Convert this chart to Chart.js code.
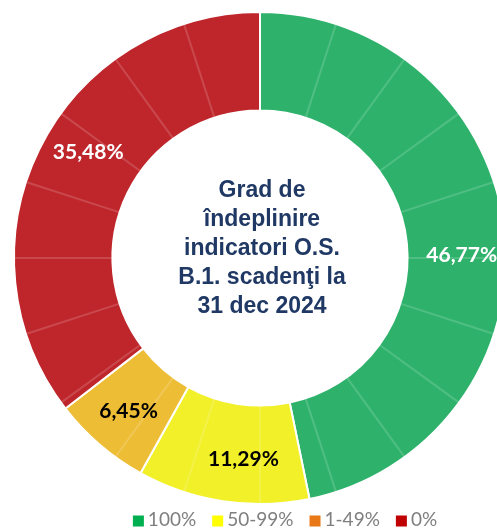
<!DOCTYPE html>
<html><head><meta charset="utf-8">
<script src="https://cdn.jsdelivr.net/npm/chart.js@4"></script>
<style>
html,body{margin:0;padding:0;background:#fff;overflow:hidden;}
#wrap{position:relative;width:520px;height:529px;}
</style></head><body>
<div id="wrap"><canvas id="c" width="520" height="529"></canvas></div>
<script>
// ---- data ----
const categories = ['100%', '50-99%', '1-49%', '0%'];
const values = [46.77, 11.29, 6.45, 35.48];
const sliceColors = ['#2eb26b', '#f2f028', '#edbd35', '#bf262b'];
const legendColors = ['#00b050', '#ffff00', '#e97817', '#c00000'];
const labelColors = ['#ffffff', '#000000', '#000000', '#ffffff'];
const centerLines = ['Grad de', 'îndeplinire', 'indicatori O.S.', 'B.1. scadenţi la', '31 dec 2024'];
// style: small angular nudges (degrees) of the value labels, as placed in the original
const labelAngleNudge = [5, -4, 0, 5.5];
const gridSteps = 20;

function fmt(v){ return v.toFixed(2).replace('.', ',') + '%'; }

const ringGrid = {
  id: 'ringGrid',
  afterDatasetsDraw(chart){
    const arc = chart.getDatasetMeta(0).data[0];
    if (!arc) return;
    const {x, y, innerRadius, outerRadius} = arc;
    const ctx = chart.ctx;
    ctx.save();
    ctx.strokeStyle = 'rgba(255,255,255,0.16)';
    ctx.lineWidth = 2;
    for (let k = 0; k < gridSteps; k++) {
      const a = -Math.PI / 2 + k * 2 * Math.PI / gridSteps;
      ctx.beginPath();
      ctx.moveTo(x + Math.cos(a) * innerRadius, y + Math.sin(a) * innerRadius);
      ctx.lineTo(x + Math.cos(a) * outerRadius, y + Math.sin(a) * outerRadius);
      ctx.stroke();
    }
    ctx.restore();
  }
};

const sliceLabels = {
  id: 'sliceLabels',
  afterDatasetsDraw(chart){
    const meta = chart.getDatasetMeta(0);
    const ctx = chart.ctx;
    ctx.save();
    ctx.font = 'bold 21px Lato';
    ctx.textAlign = 'center';
    ctx.textBaseline = 'middle';
    meta.data.forEach((arc, i) => {
      const {x, y, startAngle, endAngle, innerRadius, outerRadius} = arc;
      const a = (startAngle + endAngle) / 2 + labelAngleNudge[i] * Math.PI / 180;
      const r = innerRadius + (outerRadius - innerRadius) * 0.55;
      ctx.fillStyle = labelColors[i];
      ctx.fillText(fmt(values[i]), x + Math.cos(a) * r, y + Math.sin(a) * r);
    });
    ctx.restore();
  }
};

const centerText = {
  id: 'centerText',
  afterDatasetsDraw(chart){
    const arc = chart.getDatasetMeta(0).data[0];
    if (!arc) return;
    const ctx = chart.ctx;
    ctx.save();
    ctx.font = 'bold 23px "Liberation Sans", Arial, sans-serif';
    ctx.fillStyle = '#1f3864';
    ctx.textAlign = 'center';
    ctx.textBaseline = 'middle';
    const lh = 29, n = centerLines.length;
    centerLines.forEach((t, i) => {
      ctx.fillText(t, arc.x + 2, arc.y - 9 + (i - (n - 1) / 2) * lh);
    });
    ctx.restore();
  }
};

const bottomLegend = {
  id: 'bottomLegend',
  afterDraw(chart){
    const arc = chart.getDatasetMeta(0).data[0];
    if (!arc) return;
    const ctx = chart.ctx;
    ctx.save();
    ctx.font = '19px Lato';
    ctx.textBaseline = 'middle';
    const box = 11, gap = 4, space = 16;
    const widths = categories.map(c => box + gap + ctx.measureText(c).width);
    const total = widths.reduce((s, w) => s + w, 0) + space * (categories.length - 1);
    let x = arc.x + 25 - total / 2;
    const y = chart.height - 9;
    categories.forEach((c, i) => {
      ctx.fillStyle = legendColors[i];
      ctx.fillRect(x, y - box / 2 + 1, box, box);
      ctx.fillStyle = '#7f7f7f';
      ctx.fillText(c, x + box + gap, y);
      x += widths[i] + space;
    });
    ctx.restore();
  }
};

new Chart(document.getElementById('c'), {
  type: 'doughnut',
  data: {
    labels: categories,
    datasets: [{
      data: values,
      backgroundColor: sliceColors,
      borderColor: '#ffffff',
      borderWidth: 2
    }]
  },
  options: {
    responsive: false,
    animation: false,
    cutout: '60%',
    layout: { padding: { top: 11, bottom: 24, left: 0, right: 0 } },
    plugins: {
      legend: { display: false },
      tooltip: { enabled: false }
    },
    events: []
  },
  plugins: [ringGrid, sliceLabels, centerText, bottomLegend]
});
</script>
</body></html>
